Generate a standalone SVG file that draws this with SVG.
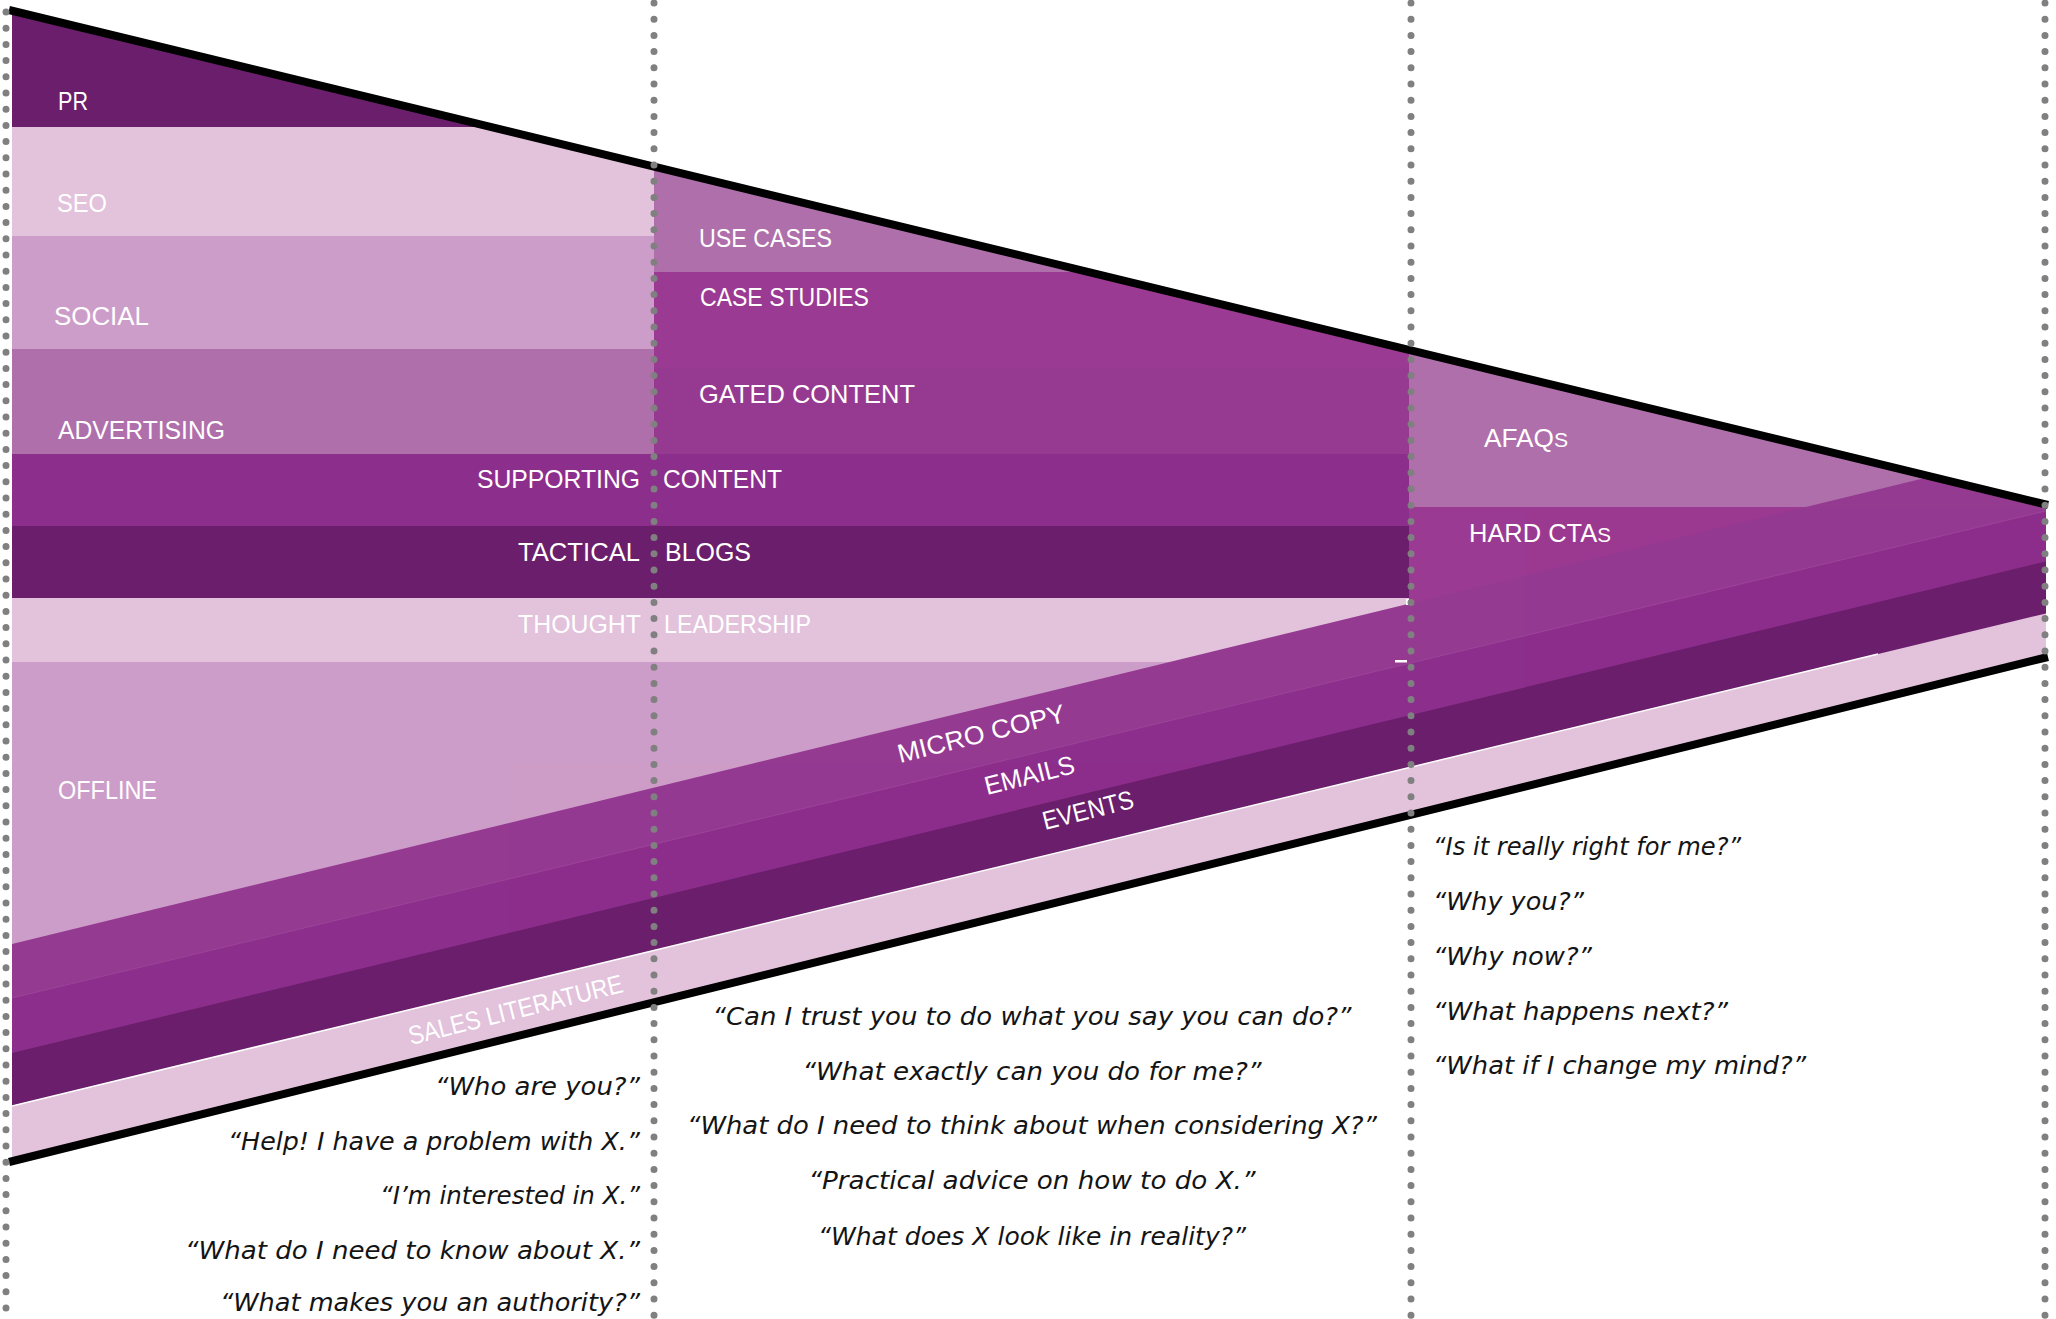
<svg xmlns="http://www.w3.org/2000/svg" width="2056" height="1319" viewBox="0 0 2056 1319">
<defs>
<style>
.lbl{fill:#ffffff;font-family:"Liberation Sans",Arial,sans-serif;font-size:26px;}
.q{fill:#141414;font-family:"DejaVu Sans","Liberation Sans",sans-serif;font-style:italic;font-size:25px;}
.dot{stroke:#808080;stroke-width:7;stroke-linecap:round;stroke-dasharray:0 16.2;fill:none;}
.edge{stroke:#000000;stroke-width:8;fill:none;}
.dark{fill:#6A1E6B;}
.light{fill:#E3C2DC;}
.soft{fill:#CD9DC9;}
.mauve{fill:#AF6FAB;}
.plum{fill:#8C2E8C;}
.bright{fill:#9B3A92;}
.mid{fill:#953A91;}
</style>
<clipPath id="funnel"><polygon points="12,10.7 2046,504.5 2046,657.5 12,1161.3"/></clipPath>
</defs>
<rect width="2056" height="1319" fill="#ffffff"/>
<g id="bands" clip-path="url(#funnel)">
  <g id="pr"><rect class="dark" x="12" y="0" width="642" height="127"/></g>
  <g id="seo"><rect class="light" x="12" y="127" width="642" height="109"/></g>
  <g id="social"><rect class="soft" x="12" y="236" width="642" height="113"/></g>
  <g id="advertising"><rect class="mauve" x="12" y="349" width="642" height="105"/></g>
  <g id="use-cases"><rect class="mauve" x="654" y="0" width="755" height="272"/></g>
  <g id="case-studies"><rect class="bright" x="654" y="272" width="755" height="96"/></g>
  <g id="gated-content"><rect fill="#963A91" x="654" y="368" width="755" height="86"/></g>
  <g id="supporting-content"><rect class="plum" x="12" y="454" width="1397" height="72"/></g>
  <g id="tactical-blogs"><rect class="dark" x="12" y="526" width="1397" height="72"/></g>
  <g id="thought-leadership"><rect class="light" x="12" y="598" width="1397" height="64"/></g>
  <g id="offline"><rect class="soft" x="12" y="662" width="1397" height="520"/></g>
  <g id="afaqs"><rect class="mauve" x="1409" y="0" width="645" height="507"/></g>
  <g id="hard-ctas"><rect class="bright" x="1409" y="507" width="645" height="680"/></g>
  <g id="micro-copy"><polygon class="mid" points="12,944 2050,447.5 2050,1200 12,1200"/></g>
  <g id="emails"><polygon class="plum" points="12,998 2050,510 2050,1200 12,1200"/>
    <line x1="12" y1="998" x2="2050" y2="510" stroke="#A24FA0" stroke-width="1" opacity="0.6"/></g>
  <g id="events"><polygon class="dark" points="12,1053 2050,560.5 2050,1200 12,1200"/></g>
  <g id="sales-literature"><polygon class="light" points="12,1106 2050,612.5 2050,1200 12,1200"/>
    <line x1="12" y1="1106" x2="1878" y2="654" stroke="#ffffff" stroke-width="1.5"/></g>
  <rect x="1406" y="599" width="3" height="6" fill="#ffffff"/>
  <rect x="1395" y="660" width="12" height="2.5" fill="#ffffff"/>
</g>
<g id="labels">
  <text class="lbl" x="58" y="110" textLength="30" lengthAdjust="spacingAndGlyphs">PR</text>
  <text class="lbl" x="57" y="212" textLength="50" lengthAdjust="spacingAndGlyphs">SEO</text>
  <text class="lbl" x="54" y="325" textLength="95" lengthAdjust="spacingAndGlyphs">SOCIAL</text>
  <text class="lbl" x="58" y="439" textLength="167" lengthAdjust="spacingAndGlyphs">ADVERTISING</text>
  <text class="lbl" x="699" y="247" textLength="133" lengthAdjust="spacingAndGlyphs">USE CASES</text>
  <text class="lbl" x="700" y="306" textLength="169" lengthAdjust="spacingAndGlyphs">CASE STUDIES</text>
  <text class="lbl" x="699" y="403" textLength="216" lengthAdjust="spacingAndGlyphs">GATED CONTENT</text>
  <text class="lbl" x="477" y="488" textLength="163" lengthAdjust="spacingAndGlyphs">SUPPORTING</text>
  <text class="lbl" x="663" y="488" textLength="119" lengthAdjust="spacingAndGlyphs">CONTENT</text>
  <text class="lbl" x="518" y="561" textLength="122" lengthAdjust="spacingAndGlyphs">TACTICAL</text>
  <text class="lbl" x="665" y="561" textLength="86" lengthAdjust="spacingAndGlyphs">BLOGS</text>
  <text class="lbl" x="518" y="633" textLength="123" lengthAdjust="spacingAndGlyphs">THOUGHT</text>
  <text class="lbl" x="664" y="633" textLength="147" lengthAdjust="spacingAndGlyphs">LEADERSHIP</text>
  <text class="lbl" x="58" y="799" textLength="99" lengthAdjust="spacingAndGlyphs">OFFLINE</text>
  <text class="lbl" x="1484" y="447" textLength="84" lengthAdjust="spacingAndGlyphs">AFAQ<tspan font-size="21">S</tspan></text>
  <text class="lbl" x="1469" y="542" textLength="142" lengthAdjust="spacingAndGlyphs">HARD CTA<tspan font-size="21">S</tspan></text>
  <text class="lbl" transform="translate(900,763) rotate(-14)" textLength="172" lengthAdjust="spacingAndGlyphs">MICRO COPY</text>
  <text class="lbl" transform="translate(987,795) rotate(-14)" textLength="92" lengthAdjust="spacingAndGlyphs">EMAILS</text>
  <text class="lbl" transform="translate(1045,830) rotate(-14)" textLength="93" lengthAdjust="spacingAndGlyphs">EVENTS</text>
  <text class="lbl" transform="translate(411,1045) rotate(-14)" textLength="220" lengthAdjust="spacingAndGlyphs">SALES LITERATURE</text>
</g>
<g id="questions-awareness" text-anchor="end">
  <text class="q" x="640" y="1095" textLength="205" lengthAdjust="spacingAndGlyphs">“Who are you?”</text>
  <text class="q" x="640" y="1150" textLength="412" lengthAdjust="spacingAndGlyphs">“Help! I have a problem with X.”</text>
  <text class="q" x="640" y="1204" textLength="260" lengthAdjust="spacingAndGlyphs">“I’m interested in X.”</text>
  <text class="q" x="640" y="1259" textLength="455" lengthAdjust="spacingAndGlyphs">“What do I need to know about X.”</text>
  <text class="q" x="640" y="1311" textLength="420" lengthAdjust="spacingAndGlyphs">“What makes you an authority?”</text>
</g>
<g id="questions-consideration" text-anchor="middle">
  <text class="q" x="1032" y="1025" textLength="639" lengthAdjust="spacingAndGlyphs">“Can I trust you to do what you say you can do?”</text>
  <text class="q" x="1032" y="1080" textLength="459" lengthAdjust="spacingAndGlyphs">“What exactly can you do for me?”</text>
  <text class="q" x="1032" y="1134" textLength="690" lengthAdjust="spacingAndGlyphs">“What do I need to think about when considering X?”</text>
  <text class="q" x="1032" y="1189" textLength="447" lengthAdjust="spacingAndGlyphs">“Practical advice on how to do X.”</text>
  <text class="q" x="1032" y="1245" textLength="428" lengthAdjust="spacingAndGlyphs">“What does X look like in reality?”</text>
</g>
<g id="questions-decision">
  <text class="q" x="1433" y="855" textLength="308" lengthAdjust="spacingAndGlyphs">“Is it really right for me?”</text>
  <text class="q" x="1433" y="910" textLength="151" lengthAdjust="spacingAndGlyphs">“Why you?”</text>
  <text class="q" x="1433" y="965" textLength="159" lengthAdjust="spacingAndGlyphs">“Why now?”</text>
  <text class="q" x="1433" y="1020" textLength="295" lengthAdjust="spacingAndGlyphs">“What happens next?”</text>
  <text class="q" x="1433" y="1074" textLength="373" lengthAdjust="spacingAndGlyphs">“What if I change my mind?”</text>
</g>
<g id="connectors">
  <line class="edge" x1="9" y1="10" x2="2048" y2="505"/>
  <line class="edge" x1="9" y1="1162" x2="2048" y2="657"/>
  <line class="dot" x1="6" y1="12" x2="6" y2="1319"/>
  <line class="dot" x1="654" y1="3" x2="654" y2="1319"/>
  <line class="dot" x1="1411" y1="3" x2="1411" y2="1319"/>
  <line class="dot" x1="2045" y1="3" x2="2045" y2="1319"/>
</g>
</svg>
